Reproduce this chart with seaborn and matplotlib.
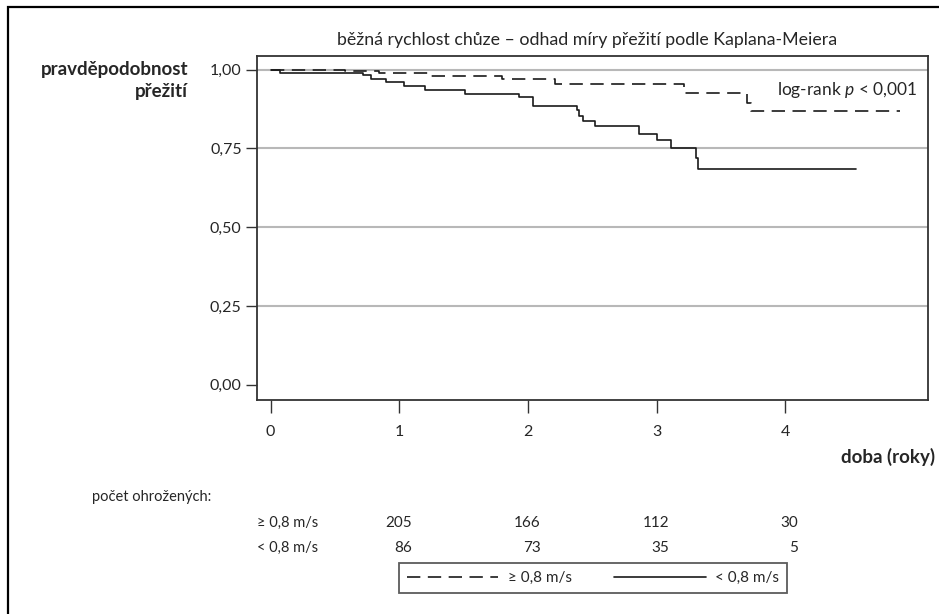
import matplotlib
matplotlib.use("Agg")
import matplotlib.pyplot as plt
import matplotlib.transforms as mtransforms
from matplotlib.lines import Line2D
from matplotlib.patches import Rectangle
import seaborn as sns
import pandas as pd

# ---- data ----
groups = ["≥ 0,8 m/s", "< 0,8 m/s"]
t_fast = [0.0, 0.58, 0.84, 1.24, 1.80, 2.21, 3.21, 3.70, 3.73, 4.89]
s_fast = [1.000, 0.994, 0.989, 0.979, 0.969, 0.953, 0.925, 0.895, 0.867, 0.867]
t_slow = [0.0, 0.074, 0.58, 0.72, 0.78, 0.90, 1.04, 1.20, 1.51, 1.93, 2.04, 2.38, 2.40,
          2.43, 2.52, 2.86, 3.00, 3.11, 3.31, 3.32, 4.55]
s_slow = [1.000, 0.990, 0.989, 0.982, 0.971, 0.959, 0.947, 0.936, 0.924, 0.912, 0.884,
          0.871, 0.854, 0.836, 0.820, 0.797, 0.778, 0.751, 0.720, 0.686, 0.686]
risk_times = [1, 2, 3, 4]
risk_fast = [205, 166, 112, 30]
risk_slow = [86, 73, 35, 5]
y_ticks = [0.0, 0.25, 0.5, 0.75, 1.0]
y_ticklabels = ["0,00", "0,25", "0,50", "0,75", "1,00"]
x_ticks = [0, 1, 2, 3, 4]

df = pd.concat([
    pd.DataFrame({"t": t_fast, "s": s_fast, "g": groups[0]}),
    pd.DataFrame({"t": t_slow, "s": s_slow, "g": groups[1]}),
], ignore_index=True)

sns.set_theme(style="white")
FONT = ["Lato", "DejaVu Sans"]
plt.rcParams["font.family"] = FONT
plt.rcParams["mathtext.fontset"] = "custom"
plt.rcParams["mathtext.rm"] = "Lato"
plt.rcParams["mathtext.it"] = "Lato:italic"

W, H = 939, 614
fig = plt.figure(figsize=(W / 100, H / 100), dpi=100)
fig.patch.set_facecolor("white")

def fx(x):
    return x / W

def fy(y):
    return 1 - y / H

ax = fig.add_axes([fx(257), fy(400), fx(928) - fx(257), fy(56) - fy(400)])

for y in [0.25, 0.5, 0.75, 1.0]:
    ax.axhline(y, color="#b8b8b8", lw=1.5, zorder=0)

sns.lineplot(data=df, x="t", y="s", hue="g", style="g",
             palette={groups[0]: "#1a1a1a", groups[1]: "#1a1a1a"},
             dashes={groups[0]: (8, 4.5), groups[1]: ""},
             drawstyle="steps-post", estimator=None, sort=False,
             lw=1.2, legend=False, ax=ax)

ax.set_xlim(-0.105, 5.109)
ax.set_ylim(-0.048, 1.043)
ax.set_xticks(x_ticks)
ax.set_xticklabels([str(v) for v in x_ticks], fontsize=11.5)
ax.set_yticks(y_ticks)
ax.set_yticklabels(y_ticklabels, fontsize=11.5)
ax.set_xlabel("")
ax.set_ylabel("")
ax.tick_params(axis="x", direction="out", length=9, width=1, color="#333333",
               pad=9, bottom=True)
ax.tick_params(axis="y", direction="out", length=8, width=1, color="#333333",
               pad=3, left=True)
for sp in ax.spines.values():
    sp.set_visible(True)
    sp.set_color("#333333")
    sp.set_linewidth(1.3)

ax.text(5.03, 0.936, "log-rank $p$ < 0,001", ha="right", va="center", fontsize=12.5)

# titles / labels
fig.text(fx(587), fy(40), "běžná rychlost chůze – odhad míry přežití podle Kaplana-Meiera",
         ha="center", va="center", fontsize=12.8)
fig.text(fx(188), fy(69), "pravděpodobnost", ha="right", va="center", fontsize=13.5,
         fontweight="bold")
fig.text(fx(188), fy(91), "přežití", ha="right", va="center", fontsize=13.5,
         fontweight="bold")
fig.text(fx(935), fy(457), "doba (roky)", ha="right", va="center", fontsize=13.5,
         fontweight="bold")

# numbers at risk
fig.text(fx(92), fy(497), "počet ohrožených:", ha="left", va="center", fontsize=10.5)
fig.text(fx(318), fy(523), groups[0], ha="right", va="center", fontsize=10.5)
fig.text(fx(318), fy(548), groups[1], ha="right", va="center", fontsize=10.5)
blend = mtransforms.blended_transform_factory(ax.transData, fig.transFigure)
for t, a, b in zip(risk_times, risk_fast, risk_slow):
    ax.text(t + 0.1, fy(523), str(a), ha="right", va="center", fontsize=11,
            transform=blend)
    ax.text(t + 0.1, fy(548), str(b), ha="right", va="center", fontsize=11,
            transform=blend)

# legend
handles = [Line2D([], [], color="#1a1a1a", lw=1.2, dashes=(8, 4.5)),
           Line2D([], [], color="#1a1a1a", lw=1.2)]
leg = fig.legend(handles, groups, loc="center", ncol=2,
                 bbox_to_anchor=(fx(593), fy(578)), frameon=True, fancybox=False,
                 edgecolor="#333333", fontsize=11, handlelength=6.0,
                 columnspacing=2.8, handletextpad=0.6, borderpad=0.5)
leg.get_frame().set_linewidth(1.3)

# outer frame (cropped at right and bottom)
fig.patches.append(Rectangle((fx(8), -0.1), 1.2, fy(7) + 0.1, transform=fig.transFigure,
                             fill=False, edgecolor="black", lw=1.6, zorder=10))

fig.savefig("out.png", dpi=100, facecolor="white")
